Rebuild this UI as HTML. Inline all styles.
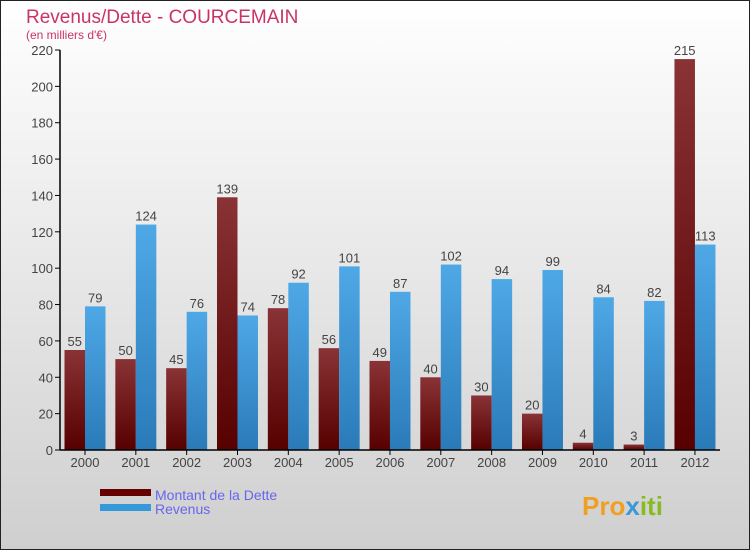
<!DOCTYPE html>
<html><head><meta charset="utf-8"><style>
body{margin:0}
svg text{font-family:"Liberation Sans",sans-serif}
</style></head><body>
<svg id="c" width="750" height="550" xmlns="http://www.w3.org/2000/svg">
<defs>
<linearGradient id="bg" x1="0" y1="0" x2="0" y2="1"><stop offset="0" stop-color="#ffffff"/><stop offset="1" stop-color="#cfcfcf"/></linearGradient>
<linearGradient id="gd" x1="0" y1="0" x2="0" y2="1"><stop offset="0" stop-color="#8a3336"/><stop offset="1" stop-color="#560000"/></linearGradient>
<linearGradient id="gr" x1="0" y1="0" x2="0" y2="1"><stop offset="0" stop-color="#4fa8e6"/><stop offset="1" stop-color="#2a7ab8"/></linearGradient>
</defs>
<rect x="0.5" y="0.5" width="749" height="549" fill="url(#bg)" stroke="#222"/>
<text x="26" y="23" font-size="19" fill="#c8336a">Revenus/Dette - COURCEMAIN</text>
<text x="26" y="39" font-size="12" fill="#c8336a">(en milliers d'€)</text>
<g id="plot"></g>
<rect x="100" y="489" width="51" height="7" fill="#660000"/>
<rect x="100" y="504" width="51" height="7" fill="#3498db"/>
<text x="155" y="500" font-size="14" fill="#6666ee">Montant de la Dette</text>
<text x="155" y="514" font-size="14" fill="#6666ee">Revenus</text>
<text x="582" y="515" font-size="26" font-weight="bold" fill="#f0a020">Pro<tspan fill="#3a9ad9">x</tspan><tspan fill="#88bb22">iti</tspan></text>
</svg>
<script>
const years=["2000","2001","2002","2003","2004","2005","2006","2007","2008","2009","2010","2011","2012"];
const dette=[55,50,45,139,78,56,49,40,30,20,4,3,215];
const revenus=[79,124,76,74,92,101,87,102,94,99,84,82,113];
const ticks=[0,20,40,60,80,100,120,140,160,180,200,220];
const NS="http://www.w3.org/2000/svg";
const g=document.getElementById("plot");
const y0=450,ymax=220,ph=400,x0=60,step=50.83,bw=20.5;
const Y=v=>y0-v/ymax*ph;
const X=i=>x0+25+i*step;
function mk(t,a){const e=document.createElementNS(NS,t);for(const k in a)e.setAttribute(k,a[k]);g.appendChild(e);return e;}
ticks.forEach(t=>{
 const l=mk("line",{x1:55,x2:60,y1:Y(t),y2:Y(t),stroke:"#000"});
 
 
 const tx=mk("text",{x:53,y:Y(t)+5,"font-size":13,fill:"#444","text-anchor":"end"});tx.textContent=t;
 
 
});
years.forEach((yr,i)=>{
 const c=X(i);
 const b1=mk("rect",{x:c-bw,y:Y(dette[i]),width:bw,height:y0-Y(dette[i]),fill:"url(#gd)"});
 
 
 const b2=mk("rect",{x:c,y:Y(revenus[i]),width:bw,height:y0-Y(revenus[i]),fill:"url(#gr)"});
 
 
 const t1=mk("text",{x:c-bw/2,y:Y(dette[i])-4,"font-size":13,fill:"#444","text-anchor":"middle"});t1.textContent=dette[i];
 
 
 const t2=mk("text",{x:c+bw/2,y:Y(revenus[i])-4,"font-size":13,fill:"#444","text-anchor":"middle"});t2.textContent=revenus[i];
 
 
 const tk=mk("line",{x1:c,x2:c,y1:450,y2:455,stroke:"#000"});
 
 
 const xl=mk("text",{x:c,y:467,"font-size":13,fill:"#444","text-anchor":"middle"});xl.textContent=yr;
 
 
});
const ya=mk("line",{x1:60,x2:60,y1:50,y2:450,stroke:"#000","stroke-width":1.5});


const xa=mk("line",{x1:60,x2:720,y1:450,y2:450,stroke:"#000","stroke-width":1.5});


</script>
</body></html>
